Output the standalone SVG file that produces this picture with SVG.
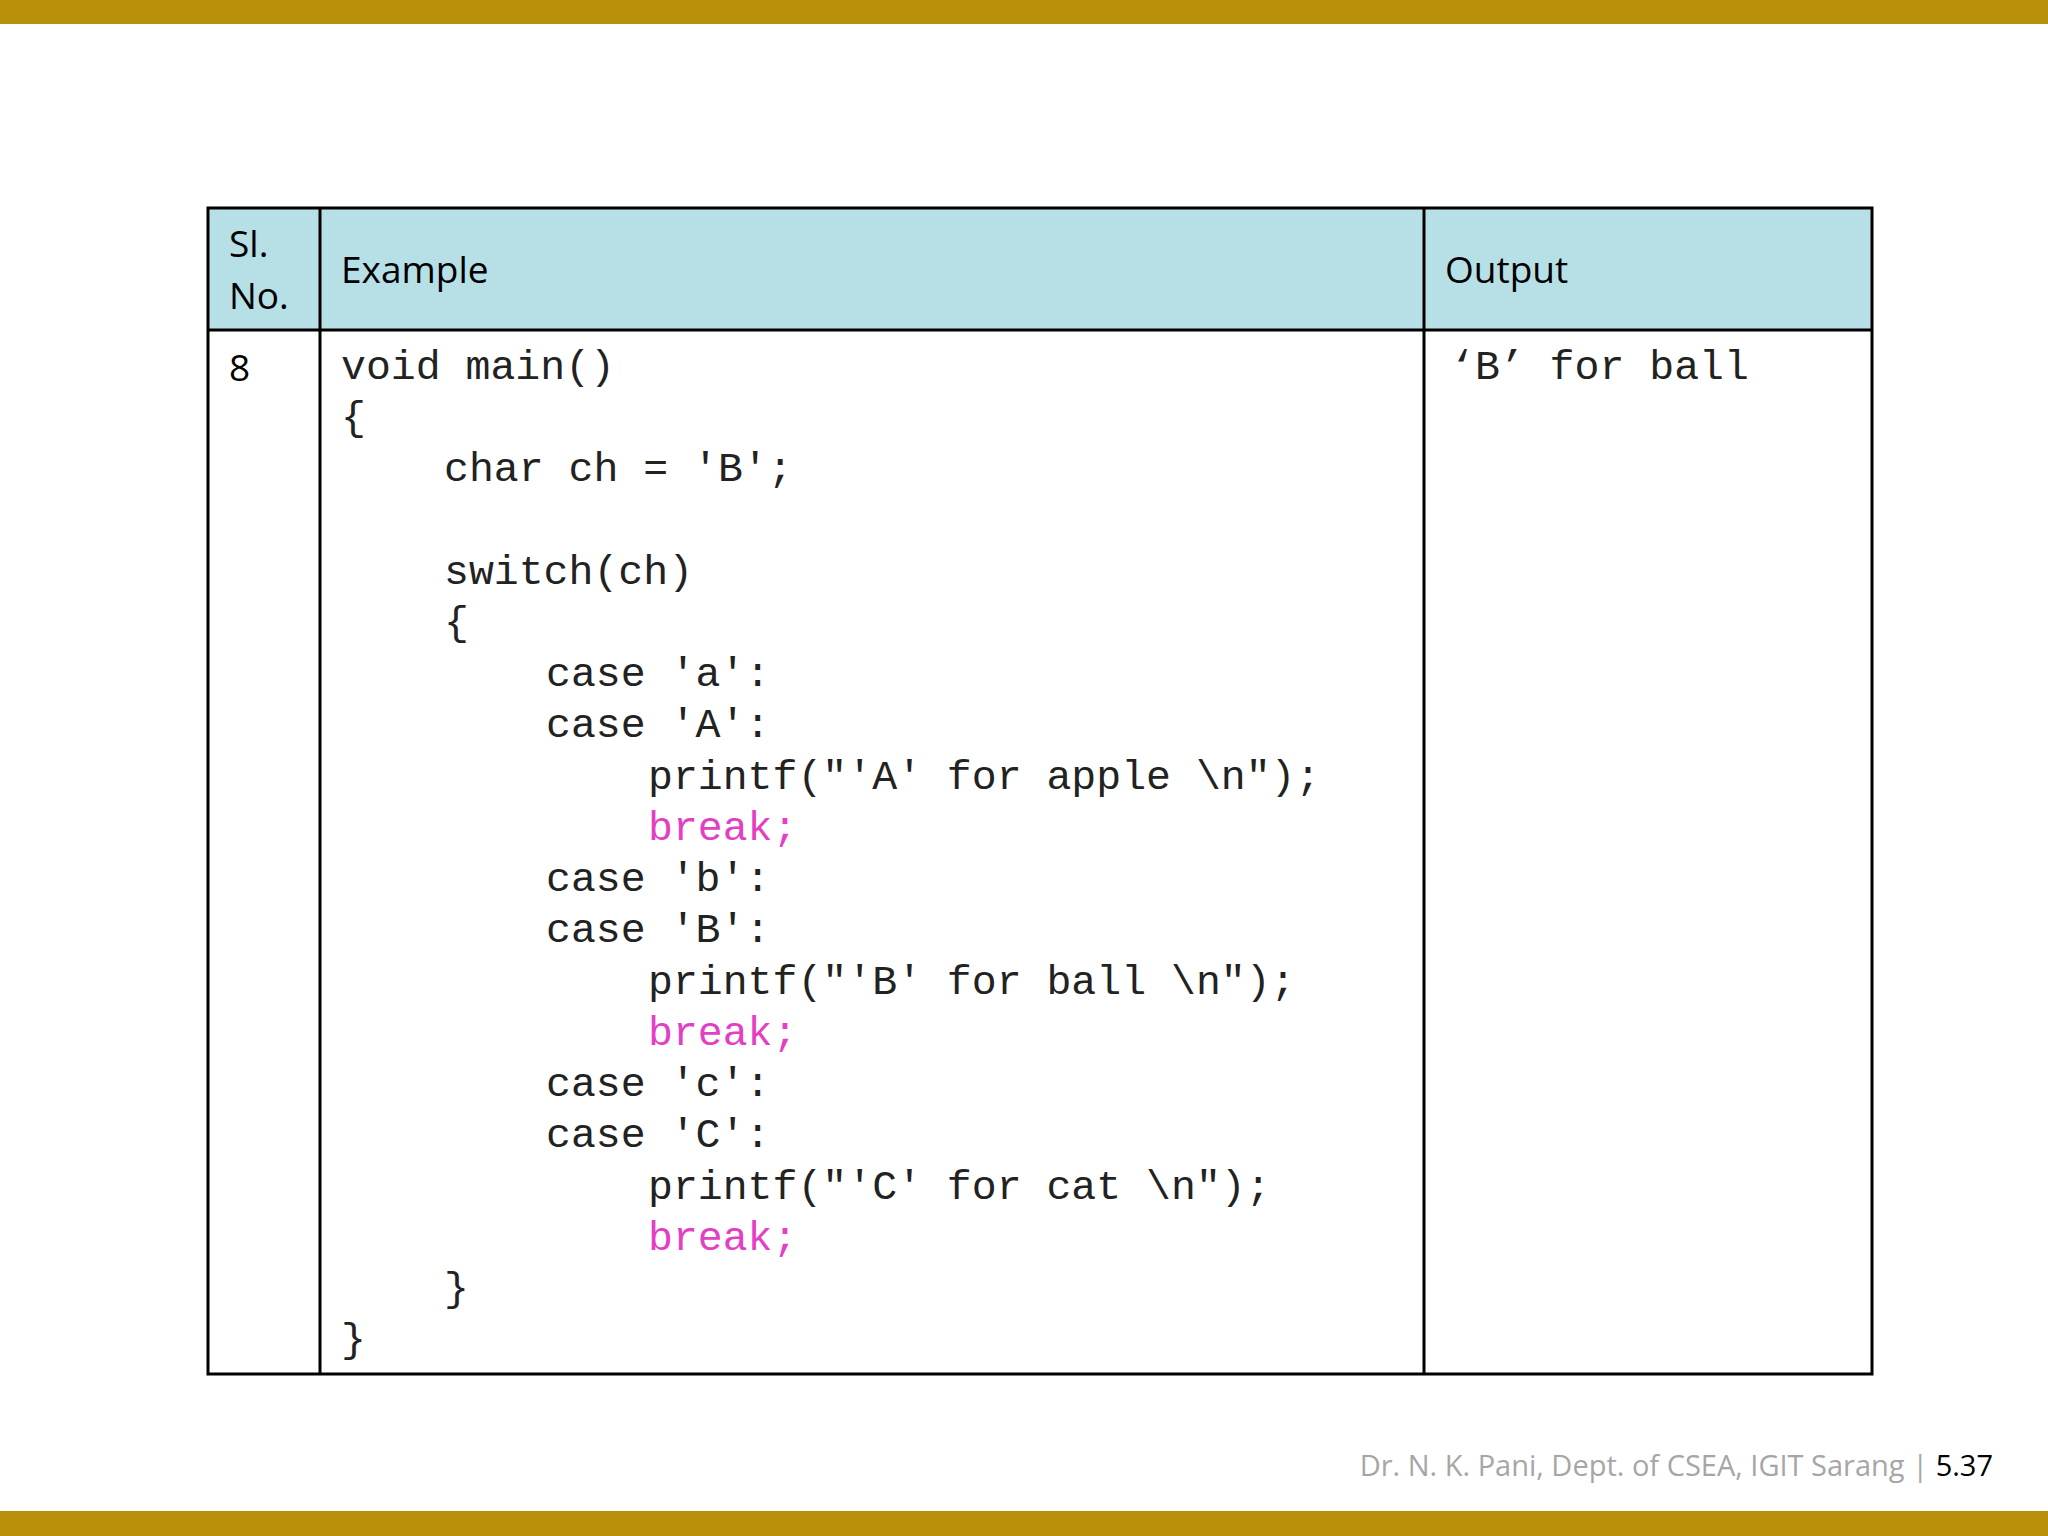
<svg xmlns="http://www.w3.org/2000/svg" width="2048" height="1536" viewBox="0 0 2048 1536">
<style>
.h{font-family:"Open Sans","Noto Sans",sans-serif;font-size:37px;fill:#000}
.c{font-family:"Liberation Mono",monospace;font-size:41.5px;fill:#222;white-space:pre}
.k{fill:#e43fc4}
.f{font-family:"Open Sans","Noto Sans",sans-serif;font-size:29px;fill:#a6a6a6}
</style>
<rect width="2048" height="1536" fill="#fff"/>
<rect x="0" y="0" width="2048" height="24" fill="#b8900a"/>
<rect x="0" y="1511" width="2048" height="25" fill="#b8900a"/>
<g id="table">
<rect x="208" y="208" width="1664" height="122" fill="#b7dfe6"/>
<rect x="208" y="208" width="1664" height="1166" fill="none" stroke="#000" stroke-width="3"/>
<line x1="208" y1="330" x2="1872" y2="330" stroke="#000" stroke-width="3"/>
<line x1="320" y1="208" x2="320" y2="1374" stroke="#000" stroke-width="3"/>
<line x1="1424" y1="208" x2="1424" y2="1374" stroke="#000" stroke-width="3"/>
<text class="h" x="229" y="257">Sl.</text>
<text class="h" x="229" y="309">No.</text>
<text class="h" x="341" y="283">Example</text>
<text class="h" x="1445" y="283">Output</text>
<text class="h" x="229" y="381">8</text>
</g>
<g id="code">
<text class="c" x="341" y="379">void main()</text>
<text class="c" x="341" y="430">{</text>
<text class="c" x="444" y="481">char ch = 'B';</text>
<text class="c" x="444" y="584">switch(ch)</text>
<text class="c" x="444" y="635">{</text>
<text class="c" x="546" y="686">case 'a':</text>
<text class="c" x="546" y="737">case 'A':</text>
<text class="c" x="648" y="789">printf("'A' for apple \n");</text>
<text class="c k" x="648" y="840">break;</text>
<text class="c" x="546" y="891">case 'b':</text>
<text class="c" x="546" y="942">case 'B':</text>
<text class="c" x="648" y="994">printf("'B' for ball \n");</text>
<text class="c k" x="648" y="1045">break;</text>
<text class="c" x="546" y="1096">case 'c':</text>
<text class="c" x="546" y="1147">case 'C':</text>
<text class="c" x="648" y="1199">printf("'C' for cat \n");</text>
<text class="c k" x="648" y="1250">break;</text>
<text class="c" x="444" y="1301">}</text>
<text class="c" x="341" y="1352">}</text>
<text class="c" x="1450" y="379">‘B’ for ball</text>
</g>
<text class="f" x="1993" y="1476" text-anchor="end">Dr. N. K. Pani, Dept. of CSEA, IGIT Sarang | <tspan fill="#000">5.37</tspan></text>
</svg>
